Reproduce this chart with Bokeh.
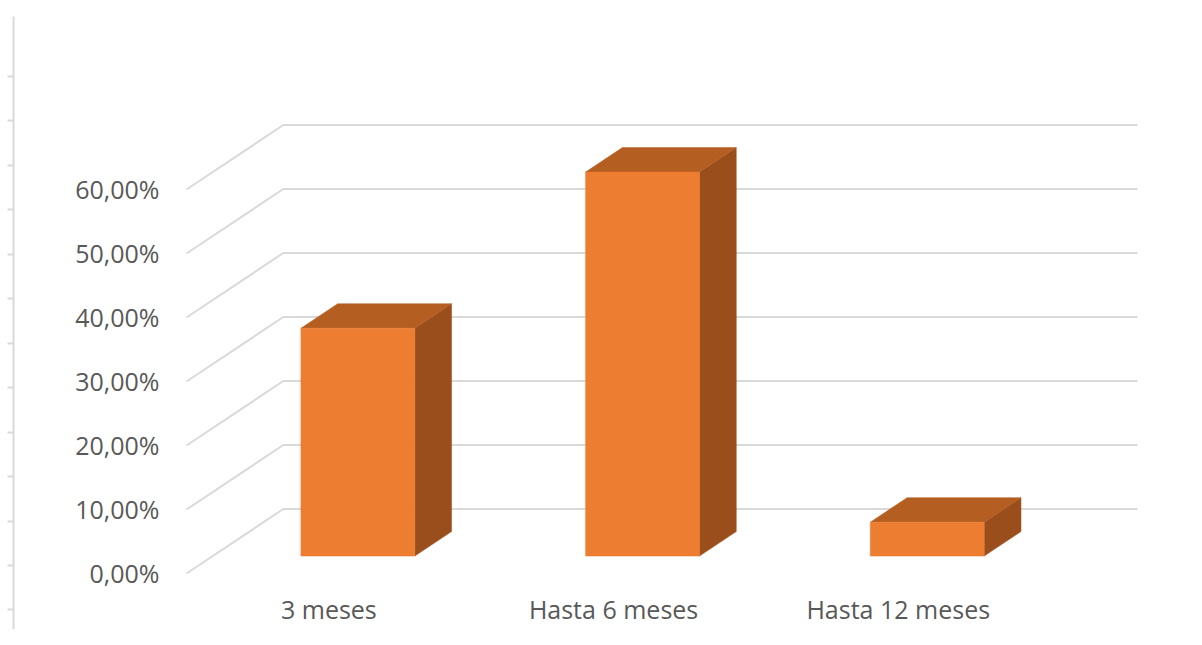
from bokeh.plotting import figure
from bokeh.models import Range1d, LinearAxis, FixedTicker, ColumnDataSource
from bokeh.core.properties import value
from bokeh.embed import file_html
from bokeh.resources import INLINE

# ---- data ----
categories = ["3 meses", "Hasta 6 meses", "Hasta 12 meses"]
values = [35.6, 60.0, 5.3]              # percent
y_ticks = [0, 10, 20, 30, 40, 50, 60]
y_tick_labels = ["0,00%", "10,00%", "20,00%", "30,00%", "40,00%", "50,00%", "60,00%"]
stray_ticks = [-12, -11, -10, -9, -8, -7, -6, -5, -4, -3, -2, -1, 0]

# ---- 3D projection style ----
DX, DY = 0.34, 10.08          # full depth vector in data units
T_FRONT, T_BACK = 0.27, 0.65  # bar depth span
BAR_W = 0.40
BAR_OFF = 0.51
FRONT_C = "#ED7D31"
TOP_C = "#B55E22"
SIDE_C = "#9A4E1C"
GRID_C = "#D9D9D9"
TEXT_C = "#595959"
FONT = "Open Sans"
FSIZE = "25px"
N = len(categories)

p = figure(width=1186, height=629,
           x_range=Range1d(-0.6077, 3.5124), y_range=Range1d(-8.75, 87.03),
           output_backend="svg", toolbar_location=None,
           x_axis_location=None, y_axis_location=None,
           min_border_left=13, min_border_top=16, min_border_right=0, min_border_bottom=0)
p.outline_line_color = None
p.xgrid.visible = False
p.ygrid.visible = False
p.background_fill_color = "white"
p.border_fill_color = "white"

# stray axis at the left edge
p.extra_y_ranges = {"stray": Range1d(-12.44, 1.35)}
ax = LinearAxis(y_range_name="stray", ticker=FixedTicker(ticks=stray_ticks))
ax.axis_line_color = GRID_C
ax.axis_line_width = 2
ax.major_tick_line_color = GRID_C
ax.major_tick_line_width = 2
ax.major_tick_out = 6
ax.major_tick_in = 0
ax.minor_tick_line_color = None
ax.major_label_standoff = 0
ax.major_label_text_font_size = "0px"
ax.major_label_overrides = {t: "" for t in stray_ticks}
p.add_layout(ax, "left")

# gridlines: left wall diagonal + back wall horizontal
gx, gy = [], []
for v in y_ticks:
    gx.append([0, DX, N + DX])
    gy.append([v, v + DY, v + DY])
p.multi_line(xs=gx, ys=gy, line_color=GRID_C, line_width=2)

# bars
fx, fy, tx, ty, sx, sy = [], [], [], [], [], []
for i, v in enumerate(values):
    x0 = i + BAR_OFF - BAR_W / 2
    x1 = i + BAR_OFF + BAR_W / 2
    ax0, ay0 = DX * T_FRONT, DY * T_FRONT
    bx0, by0 = DX * T_BACK, DY * T_BACK
    fx.append([x0 + ax0, x1 + ax0, x1 + ax0, x0 + ax0])
    fy.append([ay0, ay0, v + ay0, v + ay0])
    tx.append([x0 + ax0, x1 + ax0, x1 + bx0, x0 + bx0])
    ty.append([v + ay0, v + ay0, v + by0, v + by0])
    sx.append([x1 + ax0, x1 + bx0, x1 + bx0, x1 + ax0])
    sy.append([ay0, by0, v + by0, v + ay0])
p.patches(xs=sx, ys=sy, fill_color=SIDE_C, line_color=SIDE_C, line_width=0.5)
p.patches(xs=tx, ys=ty, fill_color=TOP_C, line_color=TOP_C, line_width=0.5)
p.patches(xs=fx, ys=fy, fill_color=FRONT_C, line_color=FRONT_C, line_width=0.5)

# y tick labels
ysrc = ColumnDataSource(dict(x=[0] * len(y_ticks), y=y_ticks, t=y_tick_labels))
p.text(x="x", y="y", text="t", source=ysrc, x_offset=-27,
       text_align="right", text_baseline="middle",
       text_font=value(FONT), text_font_size=value(FSIZE), text_color=TEXT_C)

# category labels
csrc = ColumnDataSource(dict(x=[i + 0.5 for i in range(N)], y=[0] * N, t=categories))
p.text(x="x", y="y", text="t", source=csrc, y_offset=36,
       text_align="center", text_baseline="middle",
       text_font=value(FONT), text_font_size=value(FSIZE), text_color=TEXT_C)

open("out.html", "w").write(file_html(p, INLINE))
